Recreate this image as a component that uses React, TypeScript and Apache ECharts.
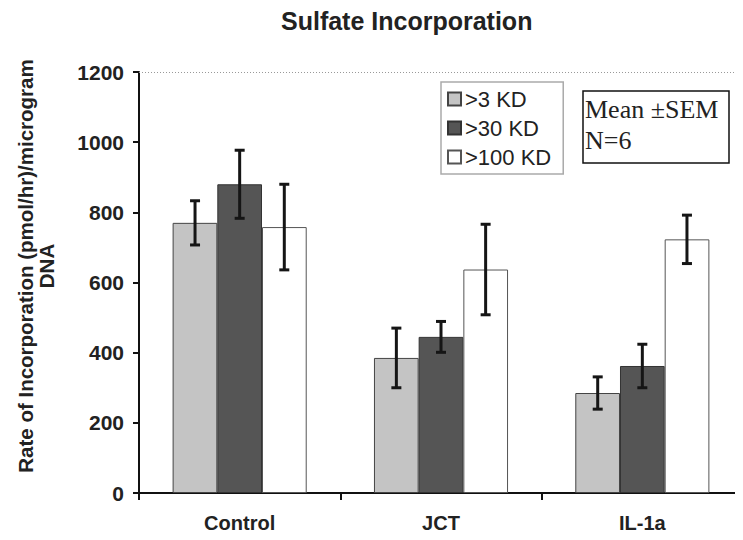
import React, { useEffect, useRef } from "react";
import * as echarts from "echarts";

const categories = ["Control", "JCT", "IL-1a"];
const seriesNames = [">3 KD", ">30 KD", ">100 KD"];
const means3 = [770, 385, 285];
const means30 = [880, 445, 362];
const means100 = [758, 637, 723];
const sem3 = [63, 85, 46];
const sem30 = [97, 44, 62];
const sem100 = [122, 129, 69];
const yTicks = [0, 200, 400, 600, 800, 1000, 1200];

const SANS = "'Liberation Sans', Arial, sans-serif";
const SERIF = "'Liberation Serif', 'Times New Roman', serif";

export default function App() {
  const ref = useRef<HTMLDivElement>(null);
  useEffect(() => {
    if (!ref.current) return;
    const chart = echarts.init(ref.current, null, { renderer: "svg" });
    const means = [means3, means30, means100];
    const sems = [sem3, sem30, sem100];
    const colors = ["#c4c4c4", "#555555", "#ffffff"];
    const borders = ["#444", "#333", "#555"];
    const BAR_FRAC = 45 / 203;

    const errData: number[][] = [];
    means.forEach((arr, s) =>
      arr.forEach((m, c) => errData.push([c, s, m - sems[s][c], m + sems[s][c]]))
    );

    const barSeries: any[] = means.map((arr, s) => ({
      type: "bar",
      name: seriesNames[s],
      data: arr,
      barWidth: "22.2%",
      barGap: "0%",
      itemStyle: { color: colors[s], borderColor: borders[s], borderWidth: 1 },
      ...(s === 0
        ? {
            markLine: {
              silent: true,
              symbol: "none",
              label: { show: false },
              lineStyle: { color: "#999", type: [1, 2], width: 1 },
              data: [{ yAxis: yTicks[yTicks.length - 1] }],
            },
          }
        : {}),
    }));

    chart.setOption({
      animation: false,
      backgroundColor: "#fff",
      title: {
        text: "Sulfate Incorporation",
        left: 276,
        top: 3,
        textStyle: { fontFamily: SANS, fontSize: 25, fontWeight: "bold", color: "#222" },
      },
      grid: { left: 139, top: 72, right: -5, bottom: 47, containLabel: false },
      legend: {
        data: seriesNames,
        orient: "vertical",
        left: 441,
        top: 82,
        icon: "rect",
        itemWidth: 13,
        itemHeight: 13,
        itemGap: 7,
        padding: [6, 12, 6, 6],
        borderColor: "#aaa",
        borderWidth: 1.5,
        backgroundColor: "#fff",
        textStyle: { fontFamily: SANS, fontSize: 22, color: "#222", padding: [0, 0, 0, -1] },
      },
      xAxis: {
        type: "category",
        data: categories,
        boundaryGap: true,
        axisLine: { lineStyle: { color: "#111", width: 2 } },
        axisTick: { show: true, length: 7, lineStyle: { color: "#111", width: 2 } },
        axisLabel: {
          fontFamily: SANS,
          fontSize: 20,
          fontWeight: "bold",
          color: "#222",
          margin: 20,
        },
      },
      yAxis: {
        type: "value",
        min: 0,
        max: 1200,
        interval: 200,
        axisLine: { show: true, lineStyle: { color: "#111", width: 2 } },
        axisTick: { show: true, length: 6, lineStyle: { color: "#111", width: 2 } },
        splitLine: { show: false },
        axisLabel: {
          fontFamily: SANS,
          fontSize: 21,
          fontWeight: "bold",
          color: "#222",
          margin: 15,
          formatter: (v: number) => String(v),
        },
      },
      graphic: [
        {
          type: "text",
          x: 25,
          y: 266,
          rotation: Math.PI / 2,
          style: {
            text: "Rate of Incorporation (pmol/hr)/microgram",
            font: "bold 20.5px " + SANS,
            fill: "#222",
            align: "center",
            verticalAlign: "middle",
          },
        },
        {
          type: "text",
          x: 46,
          y: 266,
          rotation: Math.PI / 2,
          style: {
            text: "DNA",
            font: "bold 20.5px " + SANS,
            fill: "#222",
            align: "center",
            verticalAlign: "middle",
          },
        },
        {
          type: "rect",
          shape: { x: 583, y: 91, width: 146, height: 72 },
          style: { fill: "#fff", stroke: "#111", lineWidth: 1.5 },
        },
        {
          type: "text",
          x: 585,
          y: 109,
          style: {
            text: "Mean \u00B1SEM",
            font: "26px " + SERIF,
            fill: "#222",
            verticalAlign: "middle",
          },
        },
        {
          type: "text",
          x: 585,
          y: 140,
          style: {
            text: "N=6",
            font: "26px " + SERIF,
            fill: "#222",
            verticalAlign: "middle",
          },
        },
      ],
      series: [
        ...barSeries,
        {
          type: "custom",
          name: "SEM",
          data: errData,
          z: 10,
          renderItem: (params: any, api: any) => {
            const c = api.value(0);
            const s = api.value(1);
            const lo = api.coord([c, api.value(2)]);
            const hi = api.coord([c, api.value(3)]);
            const bw = api.size([1, 0])[0] * BAR_FRAC;
            const x = lo[0] + (s - 1) * bw;
            const cap = 5;
            const st = { stroke: "#151515", lineWidth: 3 };
            return {
              type: "group",
              children: [
                { type: "line", shape: { x1: x, y1: lo[1], x2: x, y2: hi[1] }, style: st },
                { type: "line", shape: { x1: x - cap, y1: lo[1], x2: x + cap, y2: lo[1] }, style: st },
                { type: "line", shape: { x1: x - cap, y1: hi[1], x2: x + cap, y2: hi[1] }, style: st },
              ],
            };
          },
        },
      ],
    });
    return () => chart.dispose();
  }, []);
  return <div ref={ref} style={{ width: 743, height: 540, margin: -8 }} />;
}
